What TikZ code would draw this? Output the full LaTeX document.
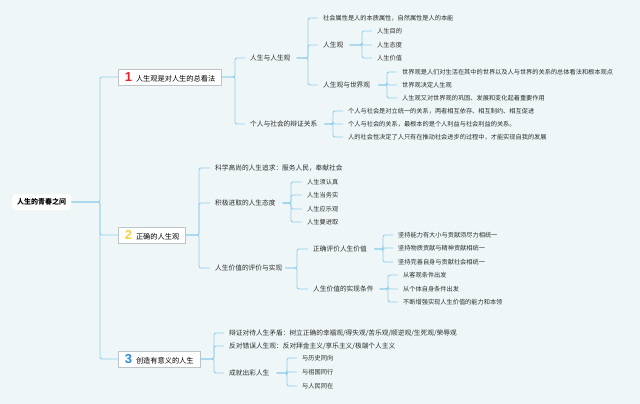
\documentclass[tikz,border=0pt]{standalone}
\usepackage{fontspec}
\setmainfont{Noto Sans CJK SC}
\newfontfamily\numfont{Liberation Sans}
\begin{document}
\begin{tikzpicture}[x=1pt,y=-1pt,
  conn/.style={draw=lineblue,line width=0.9pt,rounded corners=2pt},
  leaf/.style={anchor=west,inner sep=0pt,font=\fontsize{6.2}{7}\selectfont,text=textgray},
  mid/.style={anchor=west,inner sep=0pt,font=\fontsize{6.7}{7.5}\selectfont,text=textgray},
  topbox/.style={anchor=west,draw=boxgray,fill=white,line width=0.6pt,minimum height=16pt,inner xsep=6.5pt,inner ysep=0pt,font=\fontsize{7.2}{8}\selectfont,text=black}
]
\definecolor{bg}{RGB}{238,246,248}
\definecolor{lineblue}{RGB}{150,208,236}
\definecolor{textgray}{RGB}{45,45,45}
\definecolor{boxgray}{RGB}{190,196,200}
\definecolor{nred}{RGB}{226,36,50}
\definecolor{nyellow}{RGB}{245,210,60}
\definecolor{nblue}{RGB}{40,140,215}
\useasboundingbox (0,0) rectangle (640,404);
\fill[bg] (0,0) rectangle (640,404);

% root
\node[anchor=west,fill=white,rounded corners=4pt,minimum height=16pt,inner xsep=5pt,inner ysep=0pt,font=\bfseries\fontsize{7}{8}\selectfont] (root) at (12,202) {人生的青春之问};
\coordinate (s0) at (100,0);

% top boxes
\node[topbox] (b1) at (118,77) {\textcolor{nred}{\numfont\bfseries\fontsize{13}{13}\selectfont 1}\hspace{4pt}人生观是对人生的总看法};
\node[topbox] (b2) at (118,235) {\textcolor{nyellow}{\numfont\bfseries\fontsize{13}{13}\selectfont 2}\hspace{4pt}正确的人生观};
\node[topbox] (b3) at (118,359) {\textcolor{nblue}{\numfont\bfseries\fontsize{13}{13}\selectfont 3}\hspace{4pt}创造有意义的人生};
\foreach \c in {b1,b2,b3}{\draw[conn] (root.east) -- (s0 |- root.east) |- (\c.west);}

% box 1 children
\coordinate (s1) at (235,0);
\node[mid] (a1) at (250,58) {人生与人生观};
\node[mid] (a2) at (250,124) {个人与社会的辩证关系};
\foreach \c in {a1,a2}{\draw[conn] (b1.east) -- (s1 |- b1.east) |- ([xshift=-5pt]\c.west);}

\coordinate (s11) at (308,0);
\node[leaf] (c1) at (323,18) {社会属性是人的本质属性，自然属性是人的本能};
\node[mid] (c2) at (323,45) {人生观};
\node[mid] (c3) at (323,85) {人生观与世界观};
\foreach \c in {c1,c2,c3}{\draw[conn] ([xshift=6pt]a1.east) -- (s11 |- a1.east) |- ([xshift=-5pt]\c.west);}

\coordinate (s12) at (362,0);
\node[leaf] (d1) at (377,31) {人生目的};
\node[leaf] (d2) at (377,45) {人生态度};
\node[leaf] (d3) at (377,58) {人生价值};
\foreach \c in {d1,d2,d3}{\draw[conn] ([xshift=6pt]c2.east) -- (s12 |- c2.east) |- ([xshift=-5pt]\c.west);}

\coordinate (s13) at (387,0);
\node[leaf] (e1) at (402,72) {世界观是人们对生活在其中的世界以及人与世界的关系的总体看法和根本观点};
\node[leaf] (e2) at (402,85) {世界观决定人生观};
\node[leaf] (e3) at (402,98) {人生观又对世界观的巩固、发展和变化起着重要作用};
\foreach \c in {e1,e2,e3}{\draw[conn] ([xshift=8pt]c3.east) -- (s13 |- c3.east) |- ([xshift=-5pt]\c.west);}

\coordinate (s14) at (333,0);
\node[leaf] (f1) at (348,111) {个人与社会是对立统一的关系，两者相互依存、相互制约、相互促进};
\node[leaf] (f2) at (348,124) {个人与社会的关系，最根本的是个人利益与社会利益的关系。};
\node[leaf] (f3) at (348,137) {人的社会性决定了人只有在推动社会进步的过程中，才能实现自我的发展};
\foreach \c in {f1,f2,f3}{\draw[conn] ([xshift=7pt]a2.east) -- (s14 |- a2.east) |- ([xshift=-5pt]\c.west);}

% box 2 children
\coordinate (s2) at (199,0);
\node[mid] (g1) at (215,168) {科学高尚的人生追求：服务人民，奉献社会};
\node[mid] (g2) at (215,203) {积极进取的人生态度};
\node[mid] (g3) at (215,268) {人生价值的评价与实现};
\foreach \c in {g1,g2,g3}{\draw[conn] (b2.east) -- (s2 |- b2.east) |- ([xshift=-5pt]\c.west);}

\coordinate (s21) at (291,0);
\node[leaf] (h1) at (307,182) {人生须认真};
\node[leaf] (h2) at (307,195) {人生当务实};
\node[leaf] (h3) at (307,209) {人生应乐观};
\node[leaf] (h4) at (307,222) {人生要进取};
\foreach \c in {h1,h2,h3,h4}{\draw[conn] ([xshift=7pt]g2.east) -- (s21 |- g2.east) |- ([xshift=-5pt]\c.west);}

\coordinate (s22) at (297,0);
\node[mid] (i1) at (313,249) {正确评价人生价值};
\node[mid] (i2) at (313,289) {人生价值的实现条件};
\foreach \c in {i1,i2}{\draw[conn] ([xshift=3pt]g3.east) -- (s22 |- g3.east) |- ([xshift=-5pt]\c.west);}

\coordinate (s23) at (383,0);
\node[leaf] (j1) at (398,235) {坚持能力有大小与贡献须尽力相统一};
\node[leaf] (j2) at (398,248) {坚持物质贡献与精神贡献相统一};
\node[leaf] (j3) at (398,262) {坚持完善自身与贡献社会相统一};
\foreach \c in {j1,j2,j3}{\draw[conn] ([xshift=7pt]i1.east) -- (s23 |- i1.east) |- ([xshift=-5pt]\c.west);}

\coordinate (s24) at (388,0);
\node[leaf] (k1) at (403,275) {从客观条件出发};
\node[leaf] (k2) at (403,289) {从个体自身条件出发};
\node[leaf] (k3) at (403,302) {不断增强实现人生价值的能力和本领};
\foreach \c in {k1,k2,k3}{\draw[conn] ([xshift=6pt]i2.east) -- (s24 |- i2.east) |- ([xshift=-5pt]\c.west);}

% box 3 children
\coordinate (s3) at (214,0);
\node[mid] (l1) at (229,333) {辩证对待人生矛盾：树立正确的幸福观/得失观/苦乐观/顺逆观/生死观/荣辱观};
\node[mid] (l2) at (229,346) {反对错误人生观：反对拜金主义/享乐主义/极端个人主义};
\node[mid] (l3) at (229,373) {成就出彩人生};
\foreach \c in {l1,l2,l3}{\draw[conn] (b3.east) -- (s3 |- b3.east) |- ([xshift=-5pt]\c.west);}

\coordinate (s31) at (287,0);
\node[leaf] (m1) at (302,358) {与历史同向};
\node[leaf] (m2) at (302,372) {与祖国同行};
\node[leaf] (m3) at (302,386) {与人民同在};
\foreach \c in {m1,m2,m3}{\draw[conn] ([xshift=7pt]l3.east) -- (s31 |- l3.east) |- ([xshift=-5pt]\c.west);}
\end{tikzpicture}
\end{document}
